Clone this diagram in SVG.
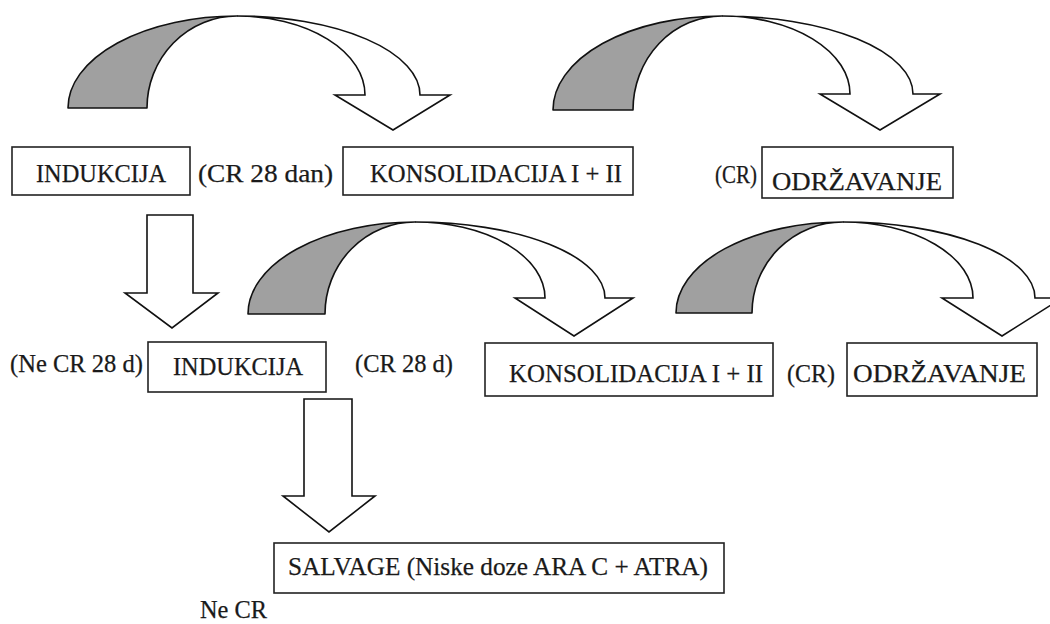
<svg xmlns="http://www.w3.org/2000/svg" width="1050" height="624" viewBox="0 0 1050 624">
<defs>
<style>
.box{fill:#fff;stroke:#222;stroke-width:1.6}
.lbl{font-family:"Liberation Serif","Times New Roman",serif;font-size:26px;fill:#1a1a1a;stroke:#1a1a1a;stroke-width:0.25}
.shade{fill:#a0a0a0;stroke:#111;stroke-width:1.6;stroke-linejoin:round}
.arw{fill:#fff;stroke:#111;stroke-width:1.6;stroke-linejoin:miter}
</style>
</defs>
<rect width="1050" height="624" fill="#fff"/>
<g id="connectors">
  <g id="arc1">
    <path class="shade" d="M68,108 A169 92 0 0 1 237 16 A90 92 0 0 0 147 108 Z"/>
    <path class="arw" d="M237,16 A183 79 0 0 1 420 95 L450 95 L393 130 L335 95 L365 95 A128 79 0 0 0 237 16 Z"/>
  </g>
  <g id="arc2">
    <path class="shade" d="M553,110 A169 94 0 0 1 722 16 A89 94 0 0 0 633 110 Z"/>
    <path class="arw" d="M722,16 A191 78 0 0 1 913 94 L940 94 L880 130 L820 94 L850 94 A128 78 0 0 0 722 16 Z"/>
  </g>
  <g id="arc3">
    <path class="shade" d="M248,314 A167 92 0 0 1 415 222 A90 92 0 0 0 325 314 Z"/>
    <path class="arw" d="M415,222 A190 76 0 0 1 605 298 L633 298 L574 336 L515 298 L545 298 A130 76 0 0 0 415 222 Z"/>
  </g>
  <g id="arc4">
    <path class="shade" d="M676,313 A167 91 0 0 1 843 222 A91 91 0 0 0 752 313 Z"/>
    <path class="arw" d="M843,222 A192 76 0 0 1 1035 298 L1062 298 L1002 336 L942 298 L973 298 A130 76 0 0 0 843 222 Z"/>
  </g>
  <path id="down1" class="arw" d="M147,215 L193,215 L193,293 L218,293 L172,328 L125,293 L147,293 Z"/>
  <path id="down2" class="arw" d="M304,399 L352,399 L352,496 L375,496 L329,532 L283,496 L304,496 Z"/>
</g>
<g id="n-indukcija1">
  <rect class="box" x="12" y="147" width="178" height="48"/>
  <text class="lbl" x="36" y="182" textLength="130" lengthAdjust="spacingAndGlyphs">INDUKCIJA</text>
</g>
<text class="lbl" x="198" y="182" textLength="135" lengthAdjust="spacingAndGlyphs">(CR 28 dan)</text>
<g id="n-konsolidacija1">
  <rect class="box" x="343" y="147" width="290" height="48"/>
  <text class="lbl" x="370" y="182" textLength="252" lengthAdjust="spacingAndGlyphs">KONSOLIDACIJA I + II</text>
</g>
<text class="lbl" x="715" y="183" textLength="42" lengthAdjust="spacingAndGlyphs">(CR)</text>
<g id="n-odrzavanje1">
  <rect class="box" x="762" y="147" width="191" height="51"/>
  <text class="lbl" x="772" y="190" textLength="170" lengthAdjust="spacingAndGlyphs">ODRŽAVANJE</text>
</g>
<text class="lbl" x="10" y="372" textLength="133" lengthAdjust="spacingAndGlyphs">(Ne CR 28 d)</text>
<g id="n-indukcija2">
  <rect class="box" x="148" y="342" width="178" height="50"/>
  <text class="lbl" x="173" y="375" textLength="130" lengthAdjust="spacingAndGlyphs">INDUKCIJA</text>
</g>
<text class="lbl" x="355" y="372" textLength="98" lengthAdjust="spacingAndGlyphs">(CR 28 d)</text>
<g id="n-konsolidacija2">
  <rect class="box" x="485" y="343" width="288" height="53"/>
  <text class="lbl" x="509" y="382" textLength="254" lengthAdjust="spacingAndGlyphs">KONSOLIDACIJA I + II</text>
</g>
<text class="lbl" x="787" y="382" textLength="48" lengthAdjust="spacingAndGlyphs">(CR)</text>
<g id="n-odrzavanje2">
  <rect class="box" x="847" y="343" width="190" height="53"/>
  <text class="lbl" x="853" y="382" textLength="173" lengthAdjust="spacingAndGlyphs">ODRŽAVANJE</text>
</g>
<g id="n-salvage">
  <rect class="box" x="274" y="543" width="450" height="50"/>
  <text class="lbl" x="288" y="575" textLength="420" lengthAdjust="spacingAndGlyphs">SALVAGE (Niske doze ARA C + ATRA)</text>
</g>
<text class="lbl" x="200" y="618" textLength="67" lengthAdjust="spacingAndGlyphs">Ne CR</text>
</svg>
